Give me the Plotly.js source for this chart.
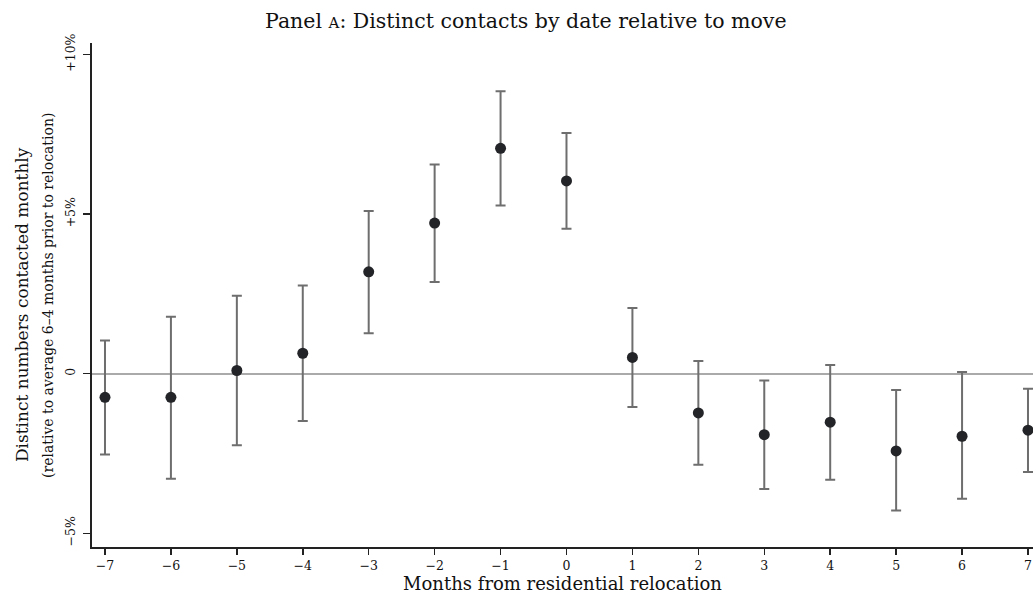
<!DOCTYPE html>
<html>
<head>
<meta charset="utf-8">
<script src="https://cdn.plot.ly/plotly-3.0.1.min.js"></script>
<style>html,body{margin:0;padding:0;background:#fff;}#chart{width:1033px;height:598px;}</style>
</head>
<body>
<div id="chart"></div>
<script>
const months = [-7, -6, -5, -4, -3, -2, -1, 0, 1, 2, 3, 4, 5, 6, 7];
const estimate = [-0.74, -0.74, 0.10, 0.64, 3.19, 4.72, 7.06, 6.04, 0.51, -1.23, -1.91, -1.52, -2.42, -1.96, -1.77];
const upper = [1.04, 1.78, 2.44, 2.76, 5.10, 6.55, 8.85, 7.54, 2.06, 0.40, -0.21, 0.27, -0.51, 0.05, -0.47];
const lower = [-2.53, -3.29, -2.24, -1.48, 1.27, 2.87, 5.27, 4.54, -1.04, -2.85, -3.61, -3.32, -4.29, -3.92, -3.08];
const yTickVals = [-5, 0, 5, 10];
const yTickText = ['−5%', '0', '+5%', '+10%'];
const xTickVals = months;

const serif = 'DejaVu Serif, serif';

const trace = {
  x: months,
  y: estimate,
  type: 'scatter',
  mode: 'markers',
  marker: {color: '#222428', size: 11},
  error_y: {
    type: 'data',
    symmetric: false,
    array: upper.map((u, i) => u - estimate[i]),
    arrayminus: estimate.map((e, i) => e - lower[i]),
    color: '#6e6e6e',
    thickness: 2,
    width: 5
  },
  hoverinfo: 'x+y',
  showlegend: false
};

const layout = {
  width: 1033,
  height: 598,
  margin: {l: 92, r: 0, t: 43, b: 51},
  paper_bgcolor: '#fff',
  plot_bgcolor: '#fff',
  font: {family: serif, color: '#111'},
  title: {
    text: 'Panel <span style="font-size:15px">A</span>: Distinct contacts by date relative to move',
    font: {family: serif, size: 20.5, color: '#111'},
    x: 0.509,
    xref: 'container',
    xanchor: 'center',
    y: 0.965,
    yref: 'container',
    yanchor: 'middle'
  },
  xaxis: {
    range: [-7.197, 7.076],
    tickvals: xTickVals,
    ticks: 'outside',
    ticklen: 6,
    tickwidth: 1.5,
    tickcolor: '#222',
    showline: true,
    linecolor: '#222',
    linewidth: 2,
    showgrid: false,
    zeroline: false,
    tickfont: {family: serif, size: 12.5, color: '#111'},
    title: {text: 'Months from residential relocation', font: {family: serif, size: 18, color: '#111'}, standoff: 4}
  },
  yaxis: {
    range: [-5.43, 10.36],
    tickvals: yTickVals,
    ticktext: yTickText,
    tickangle: -90,
    ticks: 'outside',
    ticklen: 7,
    tickwidth: 1.5,
    tickcolor: '#222',
    showline: true,
    linecolor: '#222',
    linewidth: 2,
    showgrid: false,
    zeroline: true,
    zerolinecolor: '#aaaaaa',
    zerolinewidth: 2,
    ticklabelstandoff: 3,
    tickfont: {family: serif, size: 12.5, color: '#111'}
  },
  annotations: [
    {
      text: 'Distinct numbers contacted monthly',
      textangle: -90,
      xref: 'paper', yref: 'paper',
      x: -0.0744, y: 0.482,
      xanchor: 'center', yanchor: 'middle',
      showarrow: false,
      font: {family: serif, size: 17, color: '#111'}
    },
    {
      text: '(relative to average 6–4 months prior to relocation)',
      textangle: -90,
      xref: 'paper', yref: 'paper',
      x: -0.0468, y: 0.5,
      xanchor: 'center', yanchor: 'middle',
      showarrow: false,
      font: {family: serif, size: 14, color: '#111'}
    }
  ]
};

Plotly.newPlot('chart', [trace], layout, {displayModeBar: false, staticPlot: true});
</script>
</body>
</html>
